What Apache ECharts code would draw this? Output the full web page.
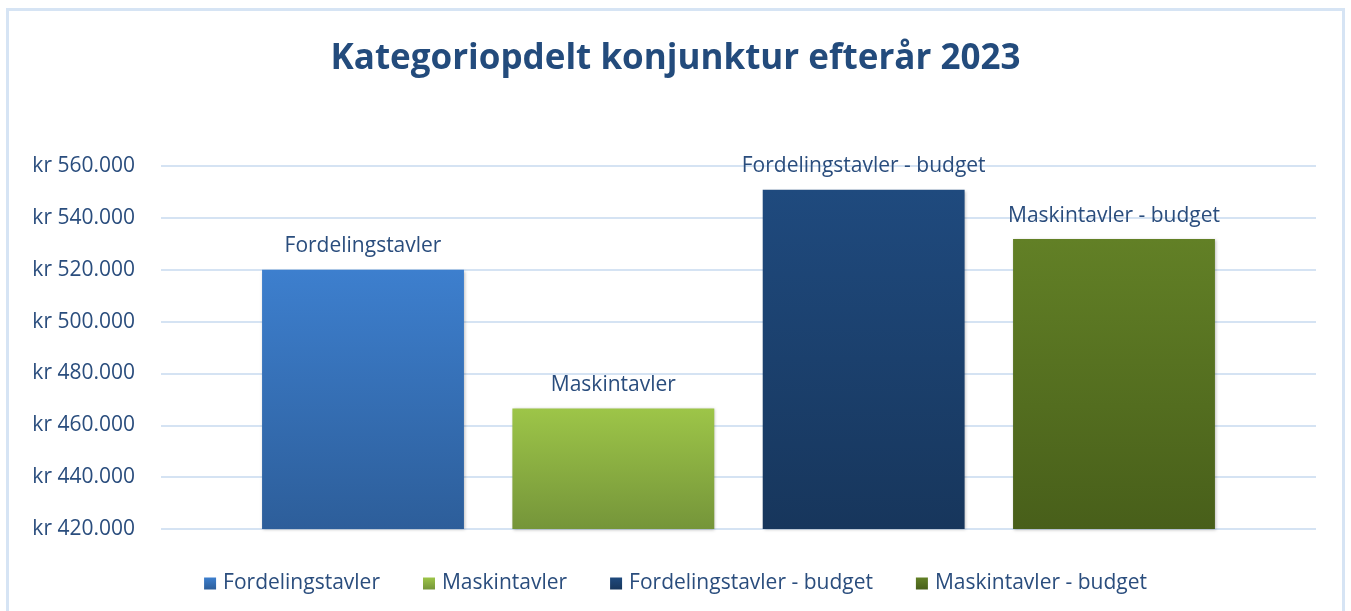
<!DOCTYPE html>
<html>
<head>
<meta charset="utf-8">
<script src="https://cdn.jsdelivr.net/npm/echarts@6/dist/echarts.min.js"></script>
<style>
html,body{margin:0;padding:0;background:#fff;}
#frame{position:absolute;left:6px;top:8px;width:1339px;height:620px;border:3px solid #d6e4f4;box-sizing:border-box;}
#chart{position:absolute;left:0;top:0;width:1351px;height:611px;}
</style>
</head>
<body>
<div id="frame"></div>
<div id="chart"></div>
<script>
const titleText = 'Kategoriopdelt konjunktur efterår 2023';
const categories = ['Kategori'];
const seriesNames = ['Fordelingstavler', 'Maskintavler', 'Fordelingstavler - budget', 'Maskintavler - budget'];
const seriesValues = [520000, 466500, 550800, 531800];
const yMin = 420000, yMax = 560000, yInterval = 20000;
const colorsTop = ['#3d7fce', '#9dc548', '#1f4a7e', '#628026'];
const colorsBottom = ['#2d5e9a', '#75953a', '#17365c', '#485f1a'];

const textColor = '#2a4d7d';
const font = 'Open Sans';

const chart = echarts.init(document.getElementById('chart'));
function fmt(v){ return 'kr ' + String(v).replace(/\B(?=(\d{3})+(?!\d))/g, '.'); }

chart.setOption({
  animation: false,
  title: {
    text: titleText, left: 'center', top: 37,
    textStyle: {fontFamily: font, fontWeight: 'bold', fontSize: 35, color: '#234b7c'}
  },
  legend: {
    bottom: 12, left: 'center', icon: 'rect', itemWidth: 12, itemHeight: 12, itemGap: 43,
    textStyle: {fontFamily: font, fontSize: 21, color: textColor, padding: [0, 0, 0, 2]},
    data: seriesNames
  },
  grid: {left: 161, right: 35, top: 166, bottom: 82, containLabel: false},
  xAxis: {
    type: 'category', data: categories,
    axisLine: {show: false}, axisTick: {show: false}, axisLabel: {show: false}
  },
  yAxis: {
    type: 'value', min: yMin, max: yMax, interval: yInterval,
    axisLine: {show: false}, axisTick: {show: false},
    splitLine: {lineStyle: {color: '#d5e3f3', width: 2}},
    axisLabel: {formatter: fmt, fontFamily: font, fontSize: 21, color: textColor, margin: 26}
  },
  series: seriesNames.map((n, i) => ({
    name: n, type: 'bar', data: [seriesValues[i]],
    barGap: '24%', barCategoryGap: '17.5%',
    itemStyle: {
      color: new echarts.graphic.LinearGradient(0, 0, 0, 1, [
        {offset: 0, color: colorsTop[i]}, {offset: 1, color: colorsBottom[i]}
      ]),
      shadowColor: 'rgba(0,0,0,0.25)', shadowBlur: 3, shadowOffsetX: 1, shadowOffsetY: 1
    },
    label: {
      show: true, position: 'top', distance: 13, formatter: n,
      fontFamily: font, fontSize: 21, color: textColor
    }
  }))
});
</script>
</body>
</html>
